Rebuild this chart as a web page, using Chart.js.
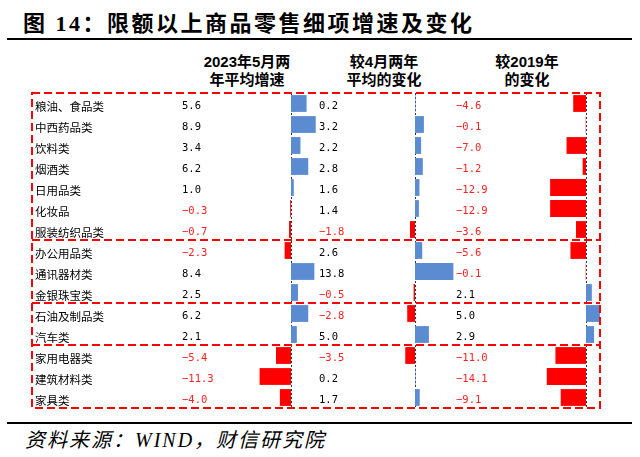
<!DOCTYPE html>
<html>
<head>
<meta charset="utf-8">
<script src="https://cdn.jsdelivr.net/npm/chart.js@4.4.0/dist/chart.umd.min.js"></script>
<style>
body{margin:0;background:#fff;width:640px;height:457px;overflow:hidden;position:relative;font-family:"Noto Sans CJK SC",sans-serif;color:#000}
#titre{position:absolute;left:23px;top:13px;font-size:22px;line-height:22px;font-weight:bold;letter-spacing:2.5px;white-space:nowrap;font-family:"Liberation Serif","Noto Sans CJK SC",serif}
.trait{position:absolute;left:7px;width:625px;height:2px;background:#000}
.entete{position:absolute;top:53px;width:140px;font-size:15px;line-height:18px;font-weight:bold;text-align:center;white-space:nowrap;font-family:"Liberation Sans","Noto Sans CJK SC",sans-serif}
canvas{position:absolute;left:0;top:85px}
#source{position:absolute;left:25px;top:430px;font-size:20px;line-height:20px;font-style:italic;letter-spacing:2px;white-space:nowrap;font-family:"Liberation Serif","Noto Sans CJK SC",serif}
</style>
</head>
<body>
<div id="titre">图 14：限额以上商品零售细项增速及变化</div>
<div class="trait" style="top:38px"></div>
<div class="entete" style="left:177px">2023年5月两<br>年平均增速</div>
<div class="entete" style="left:314px">较4月两年<br>平均的变化</div>
<div class="entete" style="left:457px">较2019年<br>的变化</div>
<canvas id="colA" width="640" height="331"></canvas>
<canvas id="colB" width="640" height="331"></canvas>
<canvas id="colC" width="640" height="331"></canvas>
<div class="trait" style="top:422px"></div>
<div id="source">资料来源：WIND，财信研究院</div>
<script>
// catégories (lignes du tableau)
var categories = ['粮油、食品类', '中西药品类', '饮料类', '烟酒类', '日用品类', '化妆品', '服装纺织品类',
  '办公用品类', '通讯器材类', '金银珠宝类', '石油及制品类', '汽车类', '家用电器类', '建筑材料类', '家具类'];
// 2023年5月两年平均增速
var moyenne2ans = [5.6, 8.9, 3.4, 6.2, 1.0, -0.3, -0.7, -2.3, 8.4, 2.5, 6.2, 2.1, -5.4, -11.3, -4.0];
// 较4月两年平均的变化
var ecartAvril = [0.2, 3.2, 2.2, 2.8, 1.6, 1.4, -1.8, 2.6, 13.8, -0.5, -2.8, 5.0, -3.5, 0.2, 1.7];
// 较2019年的变化
var ecart2019 = [-4.6, -0.1, -7.0, -1.2, -12.9, -12.9, -3.6, -5.6, -0.1, 2.1, 5.0, 2.9, -11.0, -14.1, -9.1];
// index de la première ligne de chaque nouveau groupe (cadres rouges)
var debutsGroupes = [7, 10, 12];

var K = 2.78;   // pixels par point de %
var LARGEUR = 640;

function couleurs(vals){
  return vals.map(function(v){ return v < 0 ? '#ff0000' : '#5b8bd0'; });
}

function texteValeur(v){
  return v < 0 ? '\u2212' + Math.abs(v).toFixed(1) : v.toFixed(1);
}

//plugin qui dessine l'axe zéro pointillé, les valeurs, les libellés et les cadres
var pluginTableau = {
  id: 'tableau',
  beforeDatasetsDraw: function(chart, args, opts){
    var ctx = chart.ctx, a = chart.chartArea;
    var x0 = Math.round(chart.scales.x.getPixelForValue(0)) + 0.5;
    ctx.save();
    ctx.strokeStyle = '#333';
    ctx.lineWidth = 1;
    ctx.setLineDash([2, 2]);
    ctx.beginPath();
    ctx.moveTo(x0, a.top);
    ctx.lineTo(x0, a.bottom);
    ctx.stroke();
    ctx.restore();
  },
  afterDatasetsDraw: function(chart, args, opts){
    var ctx = chart.ctx, a = chart.chartArea, y = chart.scales.y;
    var vals = chart.data.datasets[0].data;
    ctx.save();
    ctx.textBaseline = 'middle';
    vals.forEach(function(v, i){
      var py = y.getPixelForValue(i) + 3;
      ctx.font = '10.5px "DejaVu Sans Mono", monospace';
      ctx.fillStyle = v < 0 ? '#ff2020' : '#000';
      ctx.fillText(texteValeur(v), opts.texteX, py);
      if (opts.libelles) {
        ctx.font = '11.5px "Noto Sans CJK SC", sans-serif';
        ctx.fillStyle = '#000';
        ctx.fillText(chart.data.labels[i], 35, py);
      }
    });
    if (opts.cadres) {
      ctx.strokeStyle = '#ff0000';
      ctx.lineWidth = 2;
      ctx.setLineDash([8, 4]);
      ctx.strokeRect(32, a.top, 600 - 32, a.bottom - a.top);
      debutsGroupes.forEach(function(g){
        var py = Math.round((y.getPixelForValue(g - 1) + y.getPixelForValue(g)) / 2);
        ctx.beginPath();
        ctx.moveTo(32, py);
        ctx.lineTo(600, py);
        ctx.stroke();
      });
    }
    ctx.restore();
  }
};

function faireColonne(id, valeurs, zero, texteX, libelles, cadres){
  var ctx = document.getElementById(id).getContext('2d');
  return new Chart(ctx, {
    type: 'bar',
    data: {
      labels: categories,
      datasets: [{
        data: valeurs,
        backgroundColor: couleurs(valeurs),
        borderWidth: 0,
        barPercentage: 0.8,
        categoryPercentage: 1.0
      }]
    },
    options: {
      indexAxis: 'y',
      responsive: false,
      animation: false,
      layout: { padding: { top: 8, bottom: 8, left: 0, right: 0 } },
      scales: {
        x: { type: 'linear', display: false, bounds: 'data', min: -zero / K, max: (LARGEUR - zero) / K },
        y: { display: false, offset: true }
      },
      plugins: {
        legend: { display: false },
        tooltip: { enabled: false },
        tableau: { texteX: texteX, libelles: libelles, cadres: cadres }
      }
    },
    plugins: [pluginTableau]
  });
}

faireColonne('colA', moyenne2ans, 291, 182, true, false);
faireColonne('colB', ecartAvril, 415, 319, false, false);
faireColonne('colC', ecart2019, 586, 456, false, true);
</script>
</body>
</html>
